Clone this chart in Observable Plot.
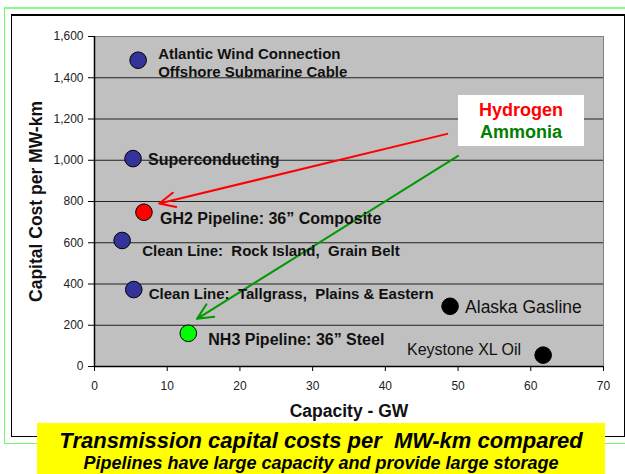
<!DOCTYPE html>
<html>
<head>
<meta charset="utf-8">
<script src="https://cdn.jsdelivr.net/npm/d3@7"></script>
<script src="https://cdn.jsdelivr.net/npm/@observablehq/plot@0.6"></script>
<style>
  html, body { margin: 0; padding: 0; background: #fff; }
  #wrap { position: relative; width: 625px; height: 474px; overflow: hidden; font-family: "Liberation Sans", Arial, sans-serif; }
  #green { position: absolute; left: 4px; top: 7px; width: 640px; height: 434px; border-left: 1px solid #66ff66; border-top: 2px solid #80ff80; border-bottom: 1px solid #66ff66; }
  #black { position: absolute; left: 11px; top: 14px; width: 612px; height: 420px; border: 1px solid #000; border-top-width: 2px; }
  #chart { position: absolute; left: 0; top: 0; }
  #legend { position: absolute; left: 458px; top: 95px; width: 126px; height: 51px; background: #fff; text-align: center; font-weight: bold; font-size: 18px; line-height: 22px; padding-top: 4px; box-sizing: border-box; }
  #caption { position: absolute; left: 37px; top: 423px; width: 568px; height: 60px; background: #ffff00; text-align: center; font-weight: bold; font-style: italic; color: #000; }
  #caption .t { font-size: 22px; line-height: 22px; margin-top: 7px; }
  #caption .s { font-size: 18px; line-height: 20px; margin-top: 1px; }
</style>
</head>
<body>
<div id="wrap">
  <div id="green"></div>
  <div id="black"></div>
  <div id="chart"></div>
  <div id="legend"><div style="color:#ff0000">Hydrogen</div><div style="color:#008000">Ammonia</div></div>
  <div id="caption"><div class="t">Transmission capital costs per&nbsp; MW-km compared</div><div class="s">Pipelines have large capacity and provide large storage</div></div>
</div>
<script>
// ---- data ----
const names = [
  "Atlantic Wind Connection\nOffshore Submarine Cable",
  "Superconducting",
  "GH2 Pipeline: 36\u201d Composite",
  "Clean Line:  Rock Island,  Grain Belt",
  "Clean Line:  Tallgrass,  Plains & Eastern",
  "NH3 Pipeline: 36\u201d Steel",
  "Alaska Gasline",
  "Keystone XL Oil"
];
const capacityGW = [6.0, 5.3, 6.8, 3.8, 5.4, 12.9, 48.9, 61.7];
const costPerMWkm = [1485, 1008, 748, 611, 373, 161, 292, 55];
const kind = ["Electric", "Electric", "Hydrogen", "Electric", "Electric", "Ammonia", "Oil/Gas", "Oil/Gas"];

const arrowNames = ["Hydrogen", "Ammonia"];
const arrowFromX = [48.5, 50.0];
const arrowFromY = [1128, 1021];
const arrowToX = [8.9, 14.1];
const arrowToY = [790, 231];

const xTicks = [0, 10, 20, 30, 40, 50, 60, 70];
const yTicks = [0, 200, 400, 600, 800, 1000, 1200, 1400, 1600];

const xTitle = "Capacity - GW";
const yTitle = "Capital Cost per MW-km";

// ---- build ----
const points = names.map((n, i) => ({name: n, x: capacityGW[i], y: costPerMWkm[i], kind: kind[i]}));
const arrows = arrowNames.map((n, i) => ({name: n, x1: arrowFromX[i], y1: arrowFromY[i], x2: arrowToX[i], y2: arrowToY[i]}));

// label styling (offsets in pixels)
const labelStyle = [
  {dx: 20, dy: 2, size: 15, weight: "bold", anchor: "start"},
  {dx: 15, dy: 0, size: 16, weight: "bold", anchor: "start"},
  {dx: 16, dy: 6, size: 16, weight: "bold", anchor: "start"},
  {dx: 20, dy: 10, size: 15, weight: "bold", anchor: "start"},
  {dx: 15, dy: 4, size: 15, weight: "bold", anchor: "start"},
  {dx: 20, dy: 6, size: 16, weight: "bold", anchor: "start"},
  {dx: 15, dy: 0, size: 17.5, weight: "normal", anchor: "start"},
  {dx: -22, dy: -6, size: 16, weight: "normal", anchor: "end"}
];

const labelMarks = labelStyle.map((s, k) => Plot.text(points, {
  filter: (d, i) => i === k,
  x: "x", y: "y", text: "name",
  dx: s.dx, dy: s.dy, fontSize: s.size, fontWeight: s.weight,
  textAnchor: s.anchor, lineAnchor: "middle", lineHeight: 1.2,
  fill: "#111"
}));

const chart = Plot.plot({
  width: 625,
  height: 474,
  marginLeft: 94,
  marginRight: 22,
  marginTop: 36,
  marginBottom: 108,
  style: {fontFamily: "'Liberation Sans', Arial, sans-serif", background: "transparent", overflow: "visible"},
  x: {domain: [0, 70]},
  y: {domain: [0, 1600]},
  color: {domain: ["Electric", "Hydrogen", "Ammonia", "Oil/Gas"], range: ["#333399", "#ff0000", "#00ff00", "#000000"]},
  marks: [
    Plot.frame({fill: "#c0c0c0", stroke: "#808080"}),
    Plot.ruleY(yTicks.filter(v => v > 0 && v < 1600), {stroke: "#222", strokeWidth: 1}),
    Plot.axisY(yTicks, {tickSize: 6, tickPadding: 5, tickFormat: d3.format(","), fontSize: 12, label: null, stroke: "#000", fill: "#222"}),
    Plot.axisX(xTicks, {tickSize: 5, tickPadding: 10, fontSize: 12, label: null, stroke: "#000", fill: "#222"}),
    Plot.ruleX([0], {stroke: "#000", strokeWidth: 1.5}),
    Plot.ruleY([0], {stroke: "#000", strokeWidth: 1.5}),
    Plot.arrow(arrows, {x1: "x1", y1: "y1", x2: "x2", y2: "y2",
      stroke: d => d.name === "Hydrogen" ? "#ff0000" : "#009900",
      strokeWidth: 2, headLength: 13, headAngle: 50}),
    Plot.dot(points, {x: "x", y: "y", r: 8.3, fill: "kind", stroke: "#000", strokeWidth: 1}),
    ...labelMarks,
    Plot.text([xTitle], {frameAnchor: "bottom", dy: 45, fontSize: 17.5, fontWeight: "bold", fill: "#111", lineAnchor: "middle"}),
    Plot.text([yTitle], {frameAnchor: "left", dx: -58, rotate: -90, fontSize: 17.5, fontWeight: "bold", fill: "#111", lineAnchor: "middle", textAnchor: "middle"})
  ]
});
document.getElementById("chart").appendChild(chart);
</script>
</body>
</html>
